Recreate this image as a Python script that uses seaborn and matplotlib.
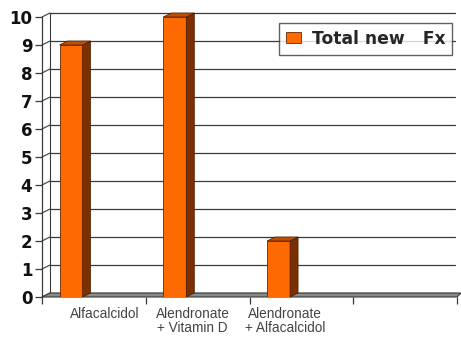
import matplotlib
matplotlib.use("Agg")
import matplotlib.pyplot as plt
import seaborn as sns
import pandas as pd
from matplotlib.patches import Polygon
from matplotlib.lines import Line2D

categories = ["Alfacalcidol", "Alendronate\n+ Vitamin D", "Alendronate\n+ Alfacalcidol"]
values = [9, 10, 2]
series_name = "Total new   Fx"
yticks = list(range(0, 11))

sns.set_theme(style="white")
plt.rcParams['font.family'] = ['Liberation Sans', 'DejaVu Sans']

W, H = 461, 337
fig = plt.figure(figsize=(W / 100, H / 100), dpi=100)
ax = fig.add_axes([42 / W, 40 / H, 415 / W, 280 / H])

df = pd.DataFrame({"cat": categories, "val": values})
sns.barplot(data=df, x="cat", y="val", color="#FF6A00", width=0.222,
            saturation=1, ax=ax, zorder=3, edgecolor="#6a2800", linewidth=0.6)

ax.set_xlim(-0.5, 3.5)
ax.set_ylim(0, 10)

# 3D depth in data units
dx = 8 / 103.75
dy = 4 / 28.0

front = "#FF6A00"
side = "#7A3000"
top = "#C05000"

for p in ax.patches:
    p.set_x(p.get_x() - 0.22)
    x0 = p.get_x()
    w = p.get_width()
    h = p.get_height()
    x1 = x0 + w
    side_poly = Polygon([(x1, 0), (x1 + dx, dy), (x1 + dx, h + dy), (x1, h)],
                        closed=True, facecolor=side, edgecolor="#4a1a00",
                        linewidth=0.5, zorder=3, clip_on=False)
    top_poly = Polygon([(x0, h), (x1, h), (x1 + dx, h + dy), (x0 + dx, h + dy)],
                       closed=True, facecolor=top, edgecolor="#4a1a00",
                       linewidth=0.5, zorder=3, clip_on=False)
    ax.add_patch(side_poly)
    ax.add_patch(top_poly)

# back wall gridlines
for v in yticks:
    ax.add_line(Line2D([-0.5 + dx, 3.48], [v + dy, v + dy], color="#3a3a3a",
                       linewidth=0.9, zorder=1, clip_on=False))
    ax.add_line(Line2D([-0.5, -0.5 + dx], [v, v + dy], color="#3a3a3a",
                       linewidth=0.8, zorder=1, clip_on=False))
# left wall back edge
ax.add_line(Line2D([-0.5 + dx, -0.5 + dx], [dy, 10 + dy], color="#3a3a3a",
                   linewidth=0.8, zorder=1, clip_on=False))
# floor
floor = Polygon([(-0.5, 0), (3.5, 0), (3.5 + dx * 0.5, dy), (-0.5 + dx, dy)],
                closed=True, facecolor="#8a8a8a", edgecolor="#3a3a3a",
                linewidth=0.8, zorder=2, clip_on=False)
ax.add_patch(floor)

for s in ["top", "right", "bottom"]:
    ax.spines[s].set_visible(False)
ax.spines["left"].set_color("#3a3a3a")
ax.spines["left"].set_linewidth(0.9)

ax.set_yticks(yticks)
ax.set_yticklabels([str(v) for v in yticks], fontsize=12, fontweight="heavy",
                   color="#111111", family=["DejaVu Sans"])
ax.tick_params(axis="y", length=5, width=0.9, color="#3a3a3a", pad=2, left=True)

label_pos = [0.1, 0.95, 1.84]
ax.set_xticks(label_pos)
ax.set_xticklabels(categories, fontsize=9.8, color="#444444", linespacing=1.05)
ax.tick_params(axis="x", length=0, pad=7)
ax.set_xticks([-0.5, 0.5, 1.5, 2.5, 3.5], minor=True)
ax.tick_params(axis="x", which="minor", length=5, width=0.9, color="#3a3a3a",
               bottom=True)
ax.set_xlabel("")
ax.set_ylabel("")

leg_handle = plt.Rectangle((0, 0), 1, 1, facecolor=front, edgecolor="#6a2800",
                           linewidth=0.6)
leg = ax.legend([leg_handle], [series_name], loc="upper right",
                bbox_to_anchor=(0.988, 0.979), frameon=True, fancybox=False,
                prop={"weight": "bold", "size": 12.3, "family": ["DejaVu Sans"]},
                handlelength=0.9, handleheight=0.65, handletextpad=0.6,
                borderpad=0.4, borderaxespad=0)
leg.get_frame().set_edgecolor("#3a3a3a")
leg.get_frame().set_linewidth(1.0)
leg.set_zorder(5)

fig.savefig("out.png", dpi=100)
